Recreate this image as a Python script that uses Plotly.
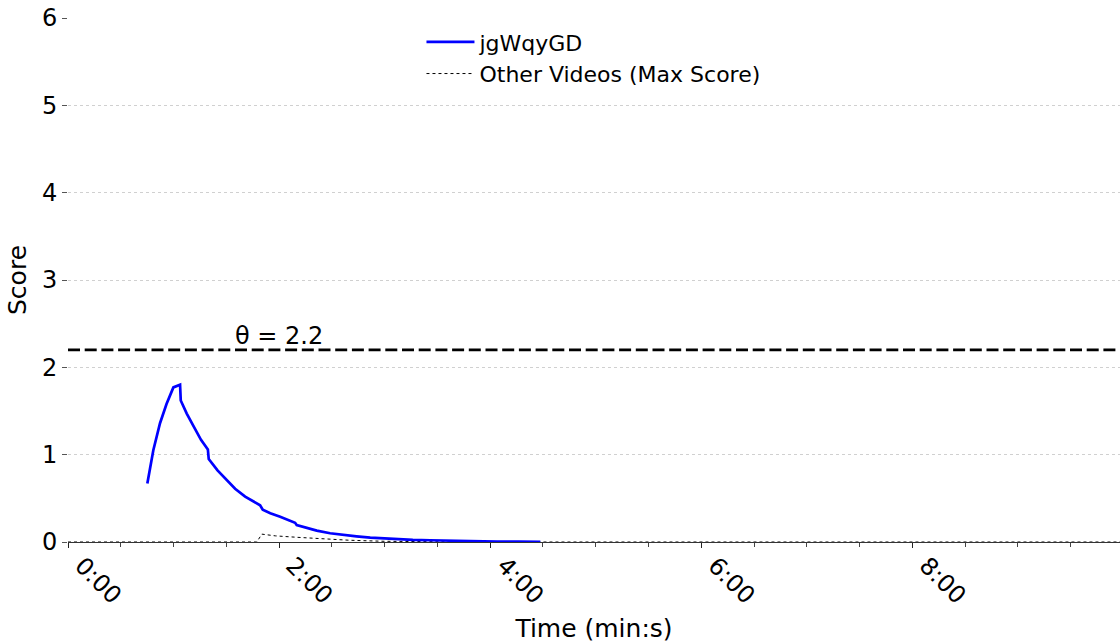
import plotly.graph_objects as go

# ---- data ----
video_name = "jgWqyGD"
video_t = [45.1, 48.5, 52.3, 56.0, 59.9, 63.7, 64.1, 67.5, 71.5, 75.6, 79.5, 80.0,
           85.0, 90.3, 95.0, 100.7, 105.0, 109.2, 110.7, 115.0, 120.6, 125.0, 129.1,
           130.0, 135.0, 141.4, 149.0, 156.6, 164.0, 171.8, 180.0, 187.0, 196.0,
           206.0, 215.0, 225.0, 235.0, 244.0, 256.0, 268.5]
video_score = [0.67, 1.05, 1.36, 1.58, 1.77, 1.80, 1.62, 1.47, 1.32, 1.17, 1.06, 0.95,
               0.82, 0.71, 0.61, 0.52, 0.47, 0.42, 0.37, 0.33, 0.29, 0.25, 0.22,
               0.195, 0.165, 0.13, 0.10, 0.08, 0.065, 0.05, 0.04, 0.03, 0.025,
               0.02, 0.015, 0.01, 0.007, 0.005, 0.004, 0.003]

other_t = [0, 107.3, 110.2, 118, 130, 140, 149, 160, 180, 200, 230, 598]
other_score = [0, 0, 0.09, 0.07, 0.054, 0.04, 0.03, 0.02, 0.008, 0.004, 0.0, 0.0]

threshold = 2.2
x_max = 598
tick_secs = [0, 120, 240, 360, 480]
tick_text = ["0:00", "2:00", "4:00", "6:00", "8:00"]
y_ticks = [0, 1, 2, 3, 4, 5, 6]

FONT = "DejaVu Sans"

fig = go.Figure()
fig.add_trace(go.Scatter(x=[0, x_max], y=[threshold, threshold], mode="lines",
                         line=dict(color="black", width=2.7, dash="12px,4.7px"),
                         showlegend=False, hoverinfo="skip"))
fig.add_trace(go.Scatter(x=other_t, y=other_score, mode="lines",
                         name="Other Videos (Max Score)",
                         line=dict(color="black", width=1, dash="dot")))
fig.add_trace(go.Scatter(x=video_t, y=video_score, mode="lines", name=video_name,
                         line=dict(color="#0000ff", width=2.7)))

fig.add_annotation(x=120, y=threshold, xref="x", yref="y", text=f"θ = {threshold}",
                   showarrow=False, yanchor="bottom", xanchor="center", yshift=-2,
                   font=dict(family=FONT, size=24, color="black"))

fig.update_layout(
    width=1120, height=643,
    margin=dict(l=68, r=0, t=18, b=101),
    paper_bgcolor="white", plot_bgcolor="white",
    font=dict(family=FONT, color="black"),
    legend=dict(x=0.336, y=0.994, xanchor="left", yanchor="top",
                font=dict(family=FONT, size=22), traceorder="reversed",
                bgcolor="rgba(0,0,0,0)", itemwidth=48),
    showlegend=True,
)
fig.update_xaxes(range=[0, x_max], tickvals=tick_secs, ticktext=tick_text,
                 tickangle=45, tickfont=dict(size=24), ticks="outside", ticklen=5,
                 tickcolor="#222", showgrid=False, zeroline=False,
                 ticklabelshift=14, ticklabelstandoff=-6,
                 showline=True, linecolor="#333", linewidth=1,
                 minor=dict(dtick=30, tick0=0, ticks="outside", ticklen=4, tickcolor="#444"),
                 title=dict(text="Time (min:s)", font=dict(size=25), standoff=10),
                 automargin=False)
fig.update_yaxes(range=[0, 6], tickvals=y_ticks, tickfont=dict(size=24),
                 ticks="outside", ticklen=5, tickcolor="#555",
                 showgrid=True, gridcolor="#d0d0d0", griddash="dot", gridwidth=0.8,
                 zeroline=False, showline=False,
                 title=dict(text="Score", font=dict(size=25), standoff=8),
                 automargin=False)

fig.write_html("out.html")
